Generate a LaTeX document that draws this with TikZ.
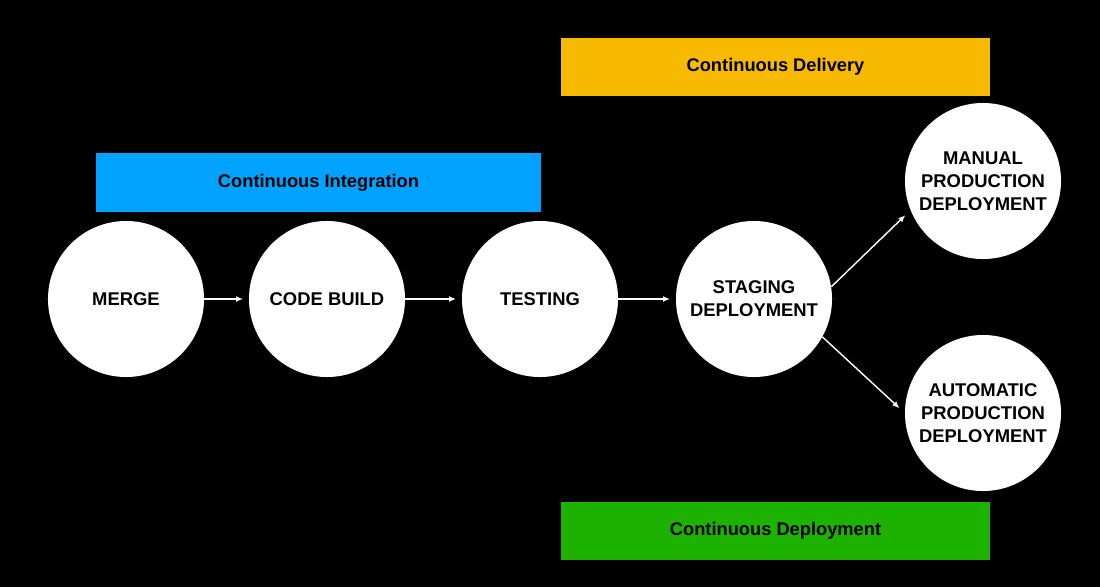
\documentclass[tikz,border=0pt]{standalone}
\usepackage{fontspec}
\setmainfont{Liberation Sans}
\usetikzlibrary{arrows.meta,positioning}
\definecolor{ciblue}{RGB}{0,162,255}
\definecolor{cdamber}{RGB}{248,186,0}
\definecolor{cdgreen}{RGB}{29,177,0}

\begin{document}
\begin{tikzpicture}[x=0.025cm, y=-0.025cm, >={Latex[length=5pt,width=4.2pt]},
    stage/.style={circle, fill=white, minimum size=3.9cm, inner sep=0pt, align=center, font=\bfseries\fontsize{13.1}{16.4}\selectfont},
    banner/.style={rectangle, minimum height=1.47cm, inner sep=0pt, font=\bfseries\fontsize{13}{15}\selectfont},
    flow/.style={->, draw=white, line width=1pt, shorten >=4pt}]

\fill [black] (0,0) rectangle (1100,587);
\useasboundingbox (0,0) rectangle (1100,587);

% banners
\node [banner, fill=ciblue, minimum width=11.125cm] (ci) at (318.5,182.5) {Continuous Integration};
\node [banner, fill=cdamber, minimum width=10.725cm] (delivery) at (775.5,67) {Continuous Delivery};
\node [banner, fill=cdgreen, minimum width=10.725cm] (deployment) at (775.5,531) {Continuous Deployment};

% stages
\node [stage] (merge) at (126,299) {MERGE};
\node [stage] (build) at (327,299) {CODE BUILD};
\node [stage] (test) at (540,299) {TESTING};
\node [stage] (staging) at (754,299) {STAGING\\DEPLOYMENT};
\node [stage] (manual) at (983,181) {MANUAL\\PRODUCTION\\DEPLOYMENT};
\node [stage] (auto) at (983,413) {AUTOMATIC\\PRODUCTION\\DEPLOYMENT};

\draw [flow] (merge) -- (build);
\draw [flow] (build) -- (test);
\draw [flow] (test) -- (staging);
\draw [flow, shorten >=5pt] (staging.9) -- (manual.202);
\draw [flow, shorten >=5pt] (staging.-29) -- (auto.180);

\end{tikzpicture}
\end{document}
